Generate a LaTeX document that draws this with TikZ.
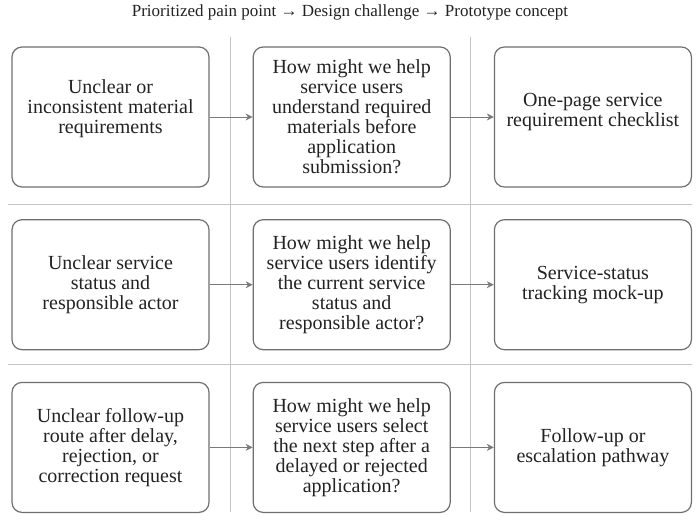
\documentclass[tikz,border=0pt]{standalone}
\usepackage{fontspec}
\setmainfont{Liberation Serif}
\usepackage{tikz}
\usetikzlibrary{arrows.meta, positioning}

\definecolor{boxgray}{HTML}{6F6F6F}
\definecolor{rulegray}{HTML}{C4C4C4}
\definecolor{arrowgray}{HTML}{7A7A7A}
\definecolor{inkgray}{HTML}{222222}

\begin{document}
\begin{tikzpicture}[
  x=1pt, y=-1pt,
  node distance=31.5pt and 43pt,
  box/.style={rectangle, draw=boxgray, line width=1.2pt, rounded corners=10pt, align=center,
    minimum width=197pt, minimum height=130pt, inner sep=3pt, text=inkgray,
    font=\fontsize{20pt}{20pt}\selectfont},
  tall/.style={minimum height=140pt},
  raised/.style={text depth=#1},
  sep/.style={draw=rulegray, line width=0.8pt},
  arrow/.style={-{Stealth[length=7pt, width=7pt]}, draw=arrowgray, line width=0.8pt}
]
\useasboundingbox (0,0) rectangle (700,519);

\node (title) [font=\fontsize{17pt}{20pt}\selectfont, text=inkgray] at (350,12) {Prioritized pain point → Design challenge → Prototype concept};

\draw[sep] (8,204) -- (692,204);
\draw[sep] (8,364) -- (692,364);
\draw[sep] (230,37) -- (230,512);
\draw[sep] (470,37) -- (470,512);

\node (pain1) [box, tall, raised=20pt] at (110.5,117) {Unclear or\\inconsistent material\\requirements};
\node (hmw1) [box, tall, right=of pain1] {How might we help\\service users\\understand required\\materials before\\application\\submission?};
\node (proto1) [box, tall, raised=15pt, right=of hmw1] {One-page service\\requirement checklist};

\node (pain2) [box, below=of pain1] {Unclear service\\status and\\responsible actor};
\node (hmw2) [box, right=of pain2] {How might we help\\service users identify\\the current service\\status and\\responsible actor?};
\node (proto2) [box, right=of hmw2] {Service-status\\tracking mock-up};

\node (pain3) [box, below=of pain2] {Unclear follow-up\\route after delay,\\rejection, or\\correction request};
\node (hmw3) [box, right=of pain3] {How might we help\\service users select\\the next step after a\\delayed or rejected\\application?};
\node (proto3) [box, right=of hmw3] {Follow-up or\\escalation pathway};

\draw[arrow] (pain1) -- (hmw1);
\draw[arrow] (hmw1) -- (proto1);
\draw[arrow] (pain2) -- (hmw2);
\draw[arrow] (hmw2) -- (proto2);
\draw[arrow] (pain3) -- (hmw3);
\draw[arrow] (hmw3) -- (proto3);

\end{tikzpicture}
\end{document}
